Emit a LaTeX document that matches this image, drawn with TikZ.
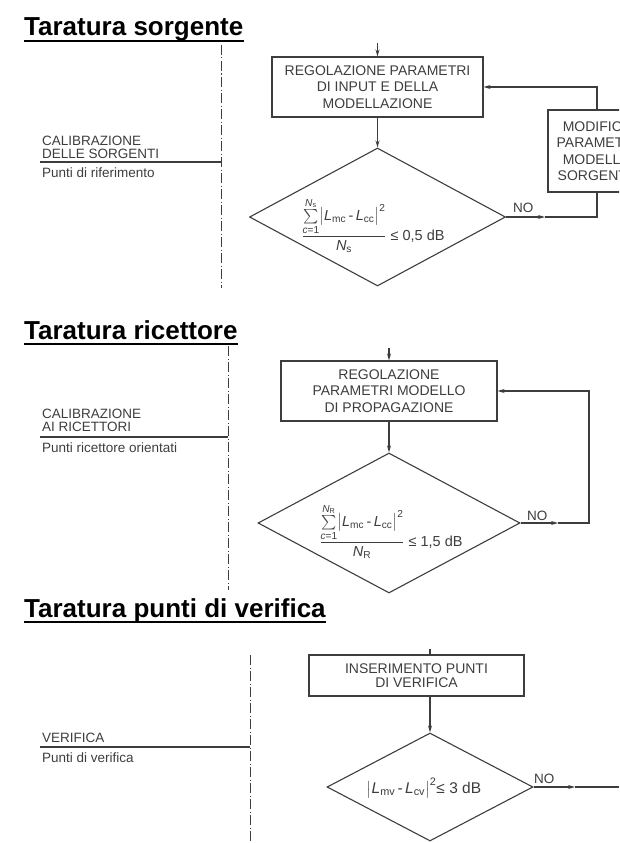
\documentclass[tikz,border=0pt]{standalone}
\usepackage{amsmath}
\usepackage{fontspec}
\setmainfont{Liberation Sans}
\usetikzlibrary{shapes.geometric,arrows.meta}
\definecolor{ink}{rgb}{0.24,0.24,0.24}

\begin{document}
\begin{tikzpicture}[x=1pt,y=-1pt,
  line/.style={color=ink,line width=1.1pt},
  arr/.style={line,-{Stealth[length=7pt,width=4pt]}},
  axis/.style={color=ink,line width=0.9pt,dash pattern=on 10pt off 2.5pt on 1pt off 2.5pt},
  stepbox/.style={line,draw,rectangle,inner sep=0pt,align=center,
    font=\fontsize{14}{16.5}\selectfont},
  test/.style={line,draw,diamond,inner sep=0pt},
  title/.style={anchor=base west,inner sep=0pt,font=\fontsize{26}{30}\selectfont\bfseries},
  lab/.style={anchor=base west,inner sep=0pt,text=ink,font=\fontsize{13.5}{14}\selectfont},
  eq/.style={inner sep=0pt,text=ink,font=\fontsize{14.5}{16}\selectfont}]
\useasboundingbox (0,0) rectangle (619,843);
\clip (0,0) rectangle (619,843);

\node[title] (t1) at (24,36) {Taratura sorgente};
\draw[line width=1.8pt] ([yshift=-5pt]t1.base west) -- ([yshift=-5pt]t1.base east);
\draw[axis] (221,45) -- (221,288);
\node[lab] (cal1) at (42,145) {CALIBRAZIONE};
\node[lab] (del1) at (42,158) {DELLE SORGENTI};
\node[lab] (rif1) at (42,177) {Punti di riferimento};
\draw[line] (40,162) -- (221,162);

\node[stepbox,minimum width=211,minimum height=60] (reg1) at (377.5,87)
  {REGOLAZIONE PARAMETRI\\DI INPUT E DELLA\\MODELLAZIONE};
\node[test,minimum width=256,minimum height=138] (chk1) at (377.5,217) {};
\node[eq] (eq1) at (373,225)
  {$\dfrac{\textstyle\sum\limits_{\textit{c}\text{=1}}^{\textit{N}_\text{s}}
  \bigl|\textit{L}_\text{mc}\,\text{-}\,\textit{L}_\text{cc}\bigr|^{\text{2}}}{\textit{N}_\text{s}}
  \text{ ≤ 0,5 dB}$};
\node[stepbox,minimum width=98,minimum height=82] (mod1) at (597,151)
  {MODIFICA\\PARAMETRI\\MODELLO\\SORGENTE};
\node[lab] (no1) at (513,212) {NO};
\coordinate (in1) at (377.5,43);
\coordinate (mid1) at (545,217);
\draw[arr] (in1) -- (reg1.north);
\draw[arr] (reg1.south) -- (chk1.north);
\draw[arr] (chk1.east) -- (mid1);
\draw[line] (mid1) -| (mod1.south);
\draw[arr] (mod1.north) |- (reg1.east);

\node[title] (t2) at (24,339) {Taratura ricettore};
\draw[line width=1.8pt] ([yshift=-5pt]t2.base west) -- ([yshift=-5pt]t2.base east);
\draw[axis] (228,346) -- (228,590);
\node[lab] (cal2) at (42,418) {CALIBRAZIONE};
\node[lab] (ric2) at (42,431) {AI RICETTORI};
\node[lab] (ori2) at (42,452) {Punti ricettore orientati};
\draw[line] (40,437) -- (228,437);

\node[stepbox,minimum width=216,minimum height=60] (reg2) at (389,391)
  {REGOLAZIONE\\PARAMETRI MODELLO\\DI PROPAGAZIONE};
\node[test,minimum width=262,minimum height=140] (chk2) at (389,523) {};
\node[eq] (eq2) at (391,531)
  {$\dfrac{\textstyle\sum\limits_{\textit{c}\text{=1}}^{\textit{N}_\text{R}}
  \bigl|\textit{L}_\text{mc}\,\text{-}\,\textit{L}_\text{cc}\bigr|^{\text{2}}}{\textit{N}_\text{R}}
  \text{ ≤ 1,5 dB}$};
\node[lab] (no2) at (527,520) {NO};
\coordinate (in2) at (389,348);
\coordinate (mid2) at (558,523);
\coordinate (ret2) at (589,391);
\draw[arr] (in2) -- (reg2.north);
\draw[arr] (reg2.south) -- (chk2.north);
\draw[arr] (chk2.east) -- (mid2);
\draw[arr] (mid2) -| (ret2) -- (reg2.east);

\node[title] (t3) at (24,617) {Taratura punti di verifica};
\draw[line width=1.8pt] ([yshift=-5pt]t3.base west) -- ([yshift=-5pt]t3.base east);
\draw[axis] (250,655) -- (250,843);
\node[lab] (ver3) at (42,742) {VERIFICA};
\node[lab] (pun3) at (42,762) {Punti di verifica};
\draw[line] (40,747) -- (250,747);

\node[stepbox,minimum width=215,minimum height=41,
  font=\fontsize{14}{14}\selectfont] (ins3) at (416.5,675.5)
  {INSERIMENTO PUNTI\\DI VERIFICA};
\node[test,minimum width=206,minimum height=108] (chk3) at (430,787) {};
\node[eq,font=\fontsize{15.5}{17}\selectfont] (eq3) at (424,788)
  {$\bigl|\textit{L}_\text{mv}\,\text{-}\,\textit{L}_\text{cv}\bigr|^{\text{2}}\text{≤ 3 dB}$};
\node[lab] (no3) at (534,783) {NO};
\coordinate (in3) at (430,649);
\coordinate (mid3) at (575,787);
\coordinate (out3) at (619,787);
\draw[line] (in3) -- (in3 |- ins3.north);
\draw[arr] (ins3.south -| chk3.north) -- (chk3.north);
\draw[arr] (chk3.east) -- (mid3);
\draw[line] (mid3) -- (out3);
\end{tikzpicture}
\end{document}
